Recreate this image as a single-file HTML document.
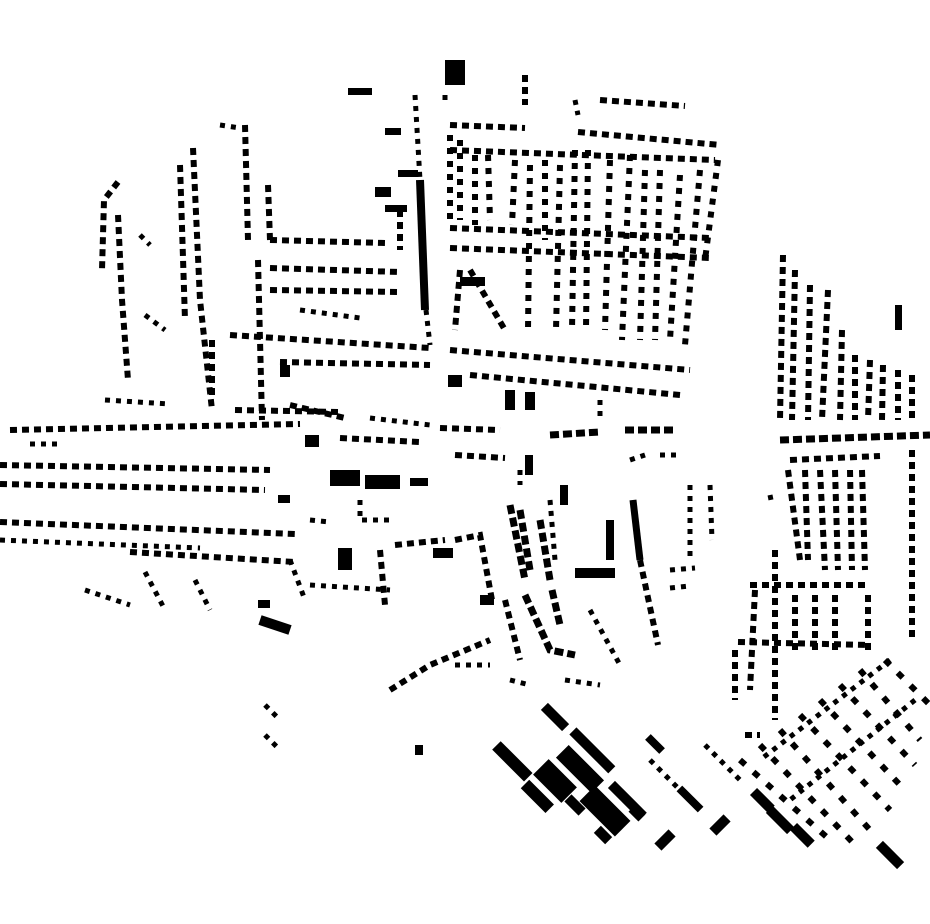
<!DOCTYPE html>
<html><head><meta charset="utf-8"><style>
html,body{margin:0;padding:0;background:#fff;width:930px;height:924px;overflow:hidden}
svg{display:block}
.r{fill:none;stroke:#000;stroke-width:6;stroke-dasharray:7 5}
.c{fill:none;stroke:#000;stroke-width:6;stroke-dasharray:6 7}
.s{fill:none;stroke:#000;stroke-width:5;stroke-dasharray:5 6}
.d{fill:none;stroke:#000;stroke-width:6;stroke-dasharray:7 11}
.t{fill:none;stroke:#000;stroke-width:7;stroke-dasharray:9 4}
</style></head><body>
<svg width="930" height="924" viewBox="0 0 930 924" xmlns="http://www.w3.org/2000/svg">
<g>
<path class="r" d="M10 430 L300 424"/>
<path class="s" d="M30 444 L60 444"/>
<path class="r" d="M0 465 L270 470"/>
<path class="r" d="M0 484 L265 490"/>
<path class="r" d="M0 522 L295 534"/>
<path class="s" d="M0 540 L200 548"/>
<path class="r" d="M130 552 L295 562"/>
<path class="s" d="M85 590 L130 605"/>
<path class="s" d="M145 572 L165 610"/>
<path class="s" d="M195 580 L210 610"/>
<path class="r" d="M118 182 L104 200 L102 270"/>
<path class="r" d="M118 215 L122 300 L128 380"/>
<path class="s" d="M140 235 L150 245"/>
<path class="s" d="M145 315 L165 330"/>
<path class="r" d="M180 165 L185 320"/>
<path class="r" d="M193 148 L200 300 L212 410"/>
<path class="r" d="M212 340 L212 400"/>
<path class="r" d="M245 125 L248 240"/>
<path class="r" d="M268 185 L270 240"/>
<path class="r" d="M258 260 L262 420"/>
<path class="s" d="M220 125 L240 128"/>
<path class="r" d="M270 240 L385 243"/>
<path class="r" d="M270 268 L400 272"/>
<path class="r" d="M270 290 L400 292"/>
<path class="s" d="M300 310 L360 318"/>
<path class="r" d="M230 335 L430 348"/>
<path class="r" d="M280 362 L430 365"/>
<path class="s" d="M105 400 L170 404"/>
<path class="r" d="M235 410 L340 412"/>
<path class="r" d="M290 405 L345 418"/>
<path class="r" d="M340 438 L420 442"/>
<path class="s" d="M370 418 L430 425"/>
<path class="s" d="M290 560 L305 600"/>
<path class="s" d="M310 585 L390 590"/>
<path class="r" d="M380 550 L385 605"/>
<path class="s" d="M415 95 L420 180"/>
<path d="M420 180 L425 310" stroke="#000" stroke-width="8" fill="none"/>
<path class="s" d="M426 310 L430 345"/>
<path class="r" d="M400 210 L400 250"/>
<rect x="348" y="88" width="24" height="7"/>
<rect x="385" y="128" width="16" height="7"/>
<rect x="398" y="170" width="20" height="7"/>
<rect x="375" y="187" width="16" height="10"/>
<rect x="385" y="205" width="22" height="7"/>
<rect x="445" y="60" width="20" height="25"/>
<path class="r" d="M450 125 L525 128"/>
<path class="r" d="M525 75 L525 105"/>
<path class="s" d="M445 95 L445 105"/>
<path class="r" d="M600 100 L685 106"/>
<path class="r" d="M578 132 L720 145"/>
<path class="r" d="M450 150 L715 160"/>
<path class="r" d="M450 228 L710 238"/>
<path class="r" d="M450 248 L710 258"/>
<path class="c" d="M460 140 L460 220"/>
<path class="c" d="M450 135 L450 225"/>
<path class="c" d="M475 155 L475 225"/>
<path class="c" d="M488 155 L490 220"/>
<path class="c" d="M515 160 L512 225"/>
<path class="c" d="M530 165 L528 330"/>
<path class="c" d="M545 160 L545 240"/>
<path class="c" d="M560 165 L556 330"/>
<path class="c" d="M575 150 L572 330"/>
<path class="c" d="M588 150 L586 330"/>
<path class="c" d="M610 160 L605 330"/>
<path class="c" d="M630 155 L622 340"/>
<path class="c" d="M645 170 L640 340"/>
<path class="c" d="M660 170 L655 340"/>
<path class="c" d="M680 175 L670 340"/>
<path class="c" d="M700 170 L685 345"/>
<path class="c" d="M718 160 L705 260"/>
<path class="r" d="M470 270 L505 330"/>
<path class="r" d="M460 270 L455 330"/>
<rect x="460" y="277" width="25" height="9"/>
<path class="r" d="M450 350 L690 370"/>
<path class="r" d="M470 375 L680 395"/>
<path class="s" d="M575 100 L578 115"/>
<rect x="505" y="390" width="10" height="20"/>
<rect x="525" y="392" width="10" height="18"/>
<rect x="448" y="375" width="14" height="12"/>
<path class="r" d="M440 428 L500 430"/>
<path class="t" d="M550 435 L600 432"/>
<path class="t" d="M625 430 L675 430"/>
<path class="s" d="M600 400 L600 420"/>
<path class="r" d="M455 455 L505 458"/>
<path class="s" d="M660 455 L680 455"/>
<path class="s" d="M630 460 L645 455"/>
<rect x="330" y="470" width="30" height="16"/>
<rect x="365" y="475" width="35" height="14"/>
<rect x="410" y="478" width="18" height="8"/>
<path class="s" d="M360 500 L360 520 L395 520"/>
<rect x="338" y="548" width="14" height="22"/>
<path class="s" d="M520 470 L520 485"/>
<rect x="525" y="455" width="8" height="20"/>
<rect x="560" y="485" width="8" height="20"/>
<path class="r" d="M395 545 L445 540"/>
<rect x="433" y="548" width="20" height="10"/>
<path class="r" d="M455 540 L480 535 L492 600"/>
<path class="t" d="M510 505 L525 580"/>
<path class="t" d="M520 510 L530 570"/>
<path class="t" d="M540 520 L550 580"/>
<path class="s" d="M550 500 L555 560"/>
<path class="t" d="M552 590 L560 625"/>
<path class="t" d="M525 595 L550 650 L575 655"/>
<path class="r" d="M505 600 L520 660"/>
<rect x="575" y="568" width="40" height="10"/>
<rect x="606" y="520" width="8" height="40"/>
<path d="M633 500 L640 560" stroke="#000" stroke-width="7"/>
<path class="r" d="M640 560 L658 645"/>
<path class="s" d="M590 610 L620 665"/>
<path class="s" d="M690 485 L690 560"/>
<path class="s" d="M710 485 L712 540"/>
<path class="s" d="M670 570 L695 568"/>
<path class="s" d="M670 588 L690 586"/>
<path class="s" d="M770 495 L772 505"/>
<rect x="480" y="595" width="14" height="10"/>
<path class="r" d="M390 690 L430 665 L490 640"/>
<path class="s" d="M455 665 L490 665"/>
<path class="s" d="M510 680 L530 685"/>
<path class="s" d="M565 680 L600 685"/>
<rect x="258" y="600" width="12" height="8"/>
<path d="M260 620 L290 630" stroke="#000" stroke-width="10"/>
<path class="s" d="M265 705 L280 720"/>
<path class="s" d="M265 735 L280 750"/>
<rect x="415" y="745" width="8" height="10"/>
<rect x="305" y="435" width="14" height="12"/>
<rect x="280" y="365" width="10" height="12"/>
<rect x="278" y="495" width="12" height="8"/>
<path class="s" d="M310 520 L330 522"/>
<g fill="#000">
<rect x="490" y="755" width="45" height="12" transform="rotate(45 512 761)"/>
<rect x="535" y="770" width="40" height="22" transform="rotate(45 555 781)"/>
<rect x="555" y="760" width="50" height="18" transform="rotate(45 580 769)"/>
<rect x="565" y="745" width="55" height="10" transform="rotate(45 592 750)"/>
<rect x="540" y="712" width="30" height="10" transform="rotate(45 555 717)"/>
<rect x="520" y="790" width="35" height="12" transform="rotate(45 537 796)"/>
<rect x="580" y="800" width="50" height="22" transform="rotate(45 605 811)"/>
<rect x="605" y="795" width="45" height="10" transform="rotate(45 627 800)"/>
<rect x="565" y="800" width="20" height="10" transform="rotate(45 575 805)"/>
<rect x="595" y="830" width="16" height="10" transform="rotate(45 603 835)"/>
<rect x="630" y="808" width="14" height="10" transform="rotate(45 637 813)"/>
<rect x="645" y="740" width="20" height="8" transform="rotate(45 655 744)"/>
<rect x="675" y="795" width="30" height="8" transform="rotate(45 690 799)"/>
<rect x="750" y="795" width="25" height="10" transform="rotate(45 762 800)"/>
<rect x="765" y="815" width="30" height="10" transform="rotate(45 780 820)"/>
<rect x="790" y="830" width="25" height="10" transform="rotate(45 802 835)"/>
<rect x="875" y="850" width="30" height="10" transform="rotate(45 890 855)"/>
<rect x="710" y="820" width="20" height="10" transform="rotate(-45 720 825)"/>
<rect x="655" y="835" width="20" height="10" transform="rotate(-45 665 840)"/>
</g>
<path class="s" d="M650 760 L680 790"/>
<path class="s" d="M705 745 L740 780"/>
<path class="r" d="M783 255 L780 420"/>
<path class="r" d="M795 270 L792 420"/>
<path class="r" d="M810 285 L808 420"/>
<path class="r" d="M828 290 L822 420"/>
<path class="r" d="M842 330 L840 420"/>
<path class="r" d="M855 355 L855 420"/>
<path class="r" d="M870 360 L868 420"/>
<path class="r" d="M883 365 L882 420"/>
<path class="r" d="M898 370 L898 420"/>
<path class="r" d="M912 375 L912 420"/>
<rect x="895" y="305" width="7" height="25"/>
<path class="t" d="M780 440 L930 435"/>
<path class="r" d="M790 460 L880 456"/>
<path class="r" d="M788 470 L800 560"/>
<path class="r" d="M805 470 L808 560"/>
<path class="r" d="M820 470 L825 570"/>
<path class="r" d="M835 470 L838 570"/>
<path class="r" d="M850 470 L852 570"/>
<path class="r" d="M862 470 L865 570"/>
<path class="r" d="M912 450 L912 640"/>
<path class="r" d="M775 550 L775 720"/>
<path class="r" d="M750 585 L870 585"/>
<path class="r" d="M755 590 L750 690"/>
<path class="r" d="M795 595 L795 650"/>
<path class="r" d="M815 595 L815 650"/>
<path class="r" d="M835 595 L835 650"/>
<path class="r" d="M868 595 L868 650"/>
<path class="r" d="M738 642 L870 645"/>
<path class="r" d="M735 650 L735 700"/>
<path class="r" d="M745 735 L760 735"/>
<path class="d" d="M885 660 L930 705"/>
<path class="d" d="M860 670 L920 740"/>
<path class="d" d="M840 685 L915 765"/>
<path class="d" d="M820 700 L900 785"/>
<path class="d" d="M800 715 L890 810"/>
<path class="d" d="M780 730 L870 830"/>
<path class="d" d="M760 745 L855 845"/>
<path class="d" d="M740 760 L830 840"/>
<path class="s" d="M890 660 L760 760"/>
<path class="s" d="M915 700 L790 800"/>
</g>
</svg>
</body></html>
